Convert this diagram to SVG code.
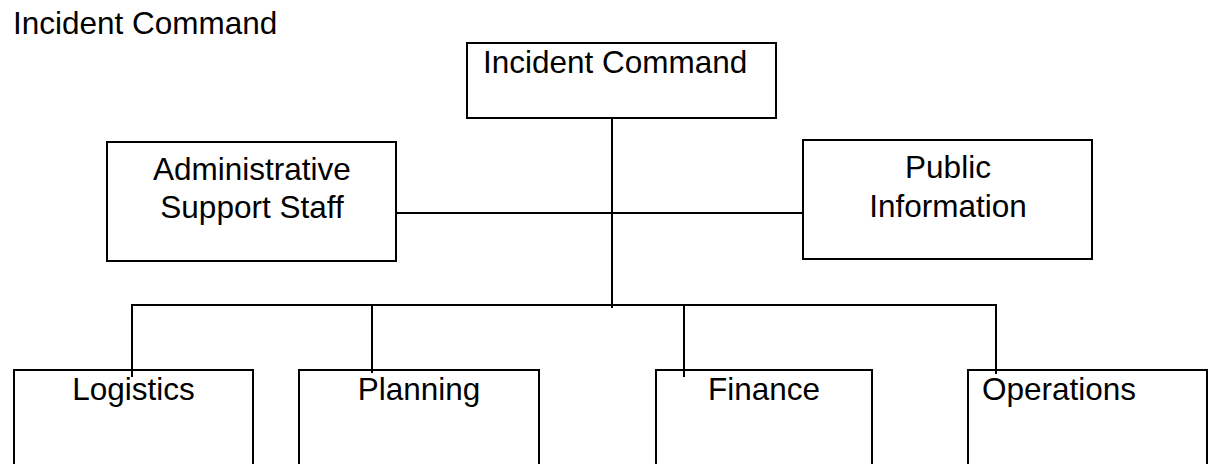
<svg xmlns="http://www.w3.org/2000/svg" width="1208" height="464" viewBox="0 0 1208 464">
<style>
.box{fill:#fff;stroke:#000;stroke-width:2}
.t{font-family:"Liberation Sans",Arial,sans-serif;font-size:31.5px;fill:#000}
.c{text-anchor:middle}
.ln{stroke:#000;stroke-width:2;fill:none}
</style>
<rect width="1208" height="464" fill="#fff"/>
<text class="t" x="13" y="34">Incident Command</text>
<g id="top">
<rect class="box" x="467" y="43" width="309" height="75"/>
<text class="t" x="483" y="73">Incident Command</text>
</g>
<g id="admin">
<rect class="box" x="107" y="142" width="289" height="119"/>
<text class="t c" x="252" y="180">Administrative</text>
<text class="t c" x="252" y="218">Support Staff</text>
</g>
<g id="public">
<rect class="box" x="803" y="140" width="289" height="119"/>
<text class="t c" x="948" y="178">Public</text>
<text class="t c" x="948" y="217">Information</text>
</g>
<g id="logistics">
<rect class="box" x="14" y="370" width="239" height="110"/>
<text class="t c" x="133.5" y="400">Logistics</text>
</g>
<g id="planning">
<rect class="box" x="299" y="370" width="240" height="110"/>
<text class="t c" x="419" y="400">Planning</text>
</g>
<g id="finance">
<rect class="box" x="656" y="370" width="216" height="110"/>
<text class="t c" x="764" y="400">Finance</text>
</g>
<g id="operations">
<rect class="box" x="968" y="370" width="239" height="110"/>
<text class="t" x="982" y="400">Operations</text>
</g>
<g id="connectors">
<line class="ln" x1="612" y1="118" x2="612" y2="308"/>
<line class="ln" x1="396" y1="213" x2="803" y2="213"/>
<line class="ln" x1="131" y1="305" x2="997" y2="305"/>
<line class="ln" x1="132" y1="305" x2="132" y2="377"/>
<line class="ln" x1="372" y1="305" x2="372" y2="373"/>
<line class="ln" x1="684" y1="305" x2="684" y2="377"/>
<line class="ln" x1="996" y1="305" x2="996" y2="374"/>
</g>
</svg>
